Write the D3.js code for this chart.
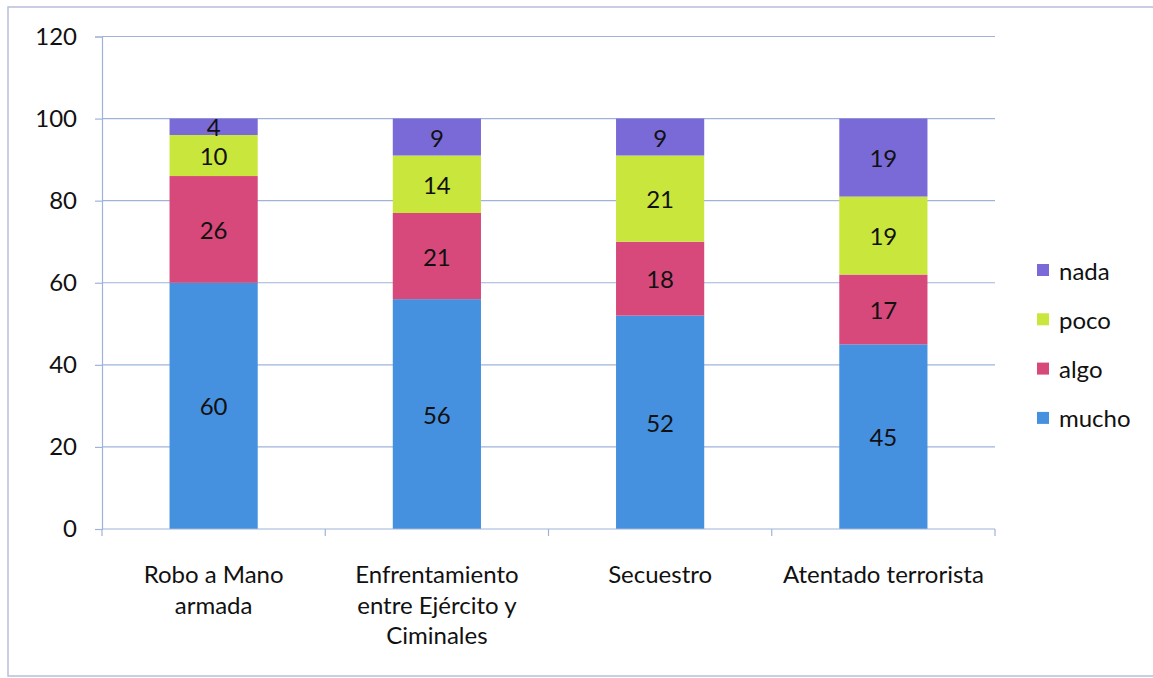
<!DOCTYPE html>
<html><head><meta charset="utf-8">
<script src="https://cdn.jsdelivr.net/npm/d3@7"></script>
<style>
html,body{margin:0;padding:0;background:#fff;}
svg text{font-family:Lato,"Open Sans",sans-serif;fill:#111;}
</style></head>
<body>
<svg id="c" width="1153" height="678"></svg>
<script>
const categories = [["Robo a Mano","armada"],["Enfrentamiento","entre Ejército y","Ciminales"],["Secuestro"],["Atentado terrorista"]];
const seriesNames = ["mucho","algo","poco","nada"];
const mucho = [60,56,52,45];
const algo = [26,21,18,17];
const poco = [10,14,21,19];
const nada = [4,9,9,19];
const yTicks = [0,20,40,60,80,100,120];
const colors = {mucho:"#4690E0", algo:"#D6497A", poco:"#C9E63C", nada:"#7A6AD8"};
const FS = 24;

const values = {mucho, algo, poco, nada};
const svg = d3.select("#c");

// frame
svg.append("rect").attr("x",8).attr("y",7).attr("width",1160).attr("height",669)
  .attr("fill","none").attr("stroke","#B8BEDA").attr("stroke-width",1.5);

const x = d3.scaleBand().domain(d3.range(categories.length)).range([102,995]).paddingInner(0.605).paddingOuter(0.3025);
const y = d3.scaleLinear().domain([0,120]).range([529,36.5]);

// gridlines
svg.append("g").selectAll("line").data(yTicks.filter(t=>t>0)).join("line")
  .attr("x1",102).attr("x2",995).attr("y1",d=>y(d)).attr("y2",d=>y(d))
  .attr("stroke","#9FB3DA").attr("stroke-width",1.2);

// y axis
const ya = svg.append("g").attr("transform","translate(102,0)")
  .call(d3.axisLeft(y).tickValues(yTicks).tickSize(7).tickPadding(18));
ya.select(".domain").attr("stroke","#9FB3DA").attr("stroke-width",1.2);
ya.selectAll(".tick line").attr("stroke","#9FB3DA").attr("stroke-width",1.2);
ya.selectAll(".tick text").attr("font-size",FS).attr("font-family","Lato,sans-serif").attr("fill","#111");

// stack
const rows = categories.map((c,i)=>{const o={i}; seriesNames.forEach(s=>o[s]=values[s][i]); return o;});
const stack = d3.stack().keys(seriesNames)(rows);

const g = svg.append("g");
stack.forEach(layer=>{
  g.selectAll(null).data(layer).join("rect")
    .attr("x",d=>x(d.data.i)).attr("width",x.bandwidth())
    .attr("y",d=>y(d[1])).attr("height",d=>y(d[0])-y(d[1]))
    .attr("fill",colors[layer.key]);
  g.selectAll(null).data(layer).join("text")
    .attr("x",d=>x(d.data.i)+x.bandwidth()/2)
    .attr("y",d=>(y(d[0])+y(d[1]))/2)
    .attr("text-anchor","middle").attr("dominant-baseline","central")
    .attr("font-size",FS)
    .text(d=>d.data[layer.key]);
});

// x axis
const xa = svg.append("g").attr("transform","translate(0,529)");
xa.append("line").attr("x1",102).attr("x2",995).attr("stroke","#9FB3DA").attr("stroke-width",1.2);
const bounds = d3.range(categories.length+1).map(i=> i<categories.length ? x(i)-x.step()*x.paddingInner()/2 : 995);
xa.selectAll(null).data(bounds).join("line")
  .attr("x1",d=>d).attr("x2",d=>d).attr("y1",0).attr("y2",7)
  .attr("stroke","#9FB3DA").attr("stroke-width",1.2);

categories.forEach((lines,i)=>{
  const t = svg.append("text").attr("text-anchor","middle").attr("font-size",FS)
    .attr("x",x(i)+x.bandwidth()/2).attr("y",583);
  lines.forEach((l,j)=>t.append("tspan").attr("x",x(i)+x.bandwidth()/2).attr("y",583+j*30.5).text(l));
});

// legend
const legOrder = ["nada","poco","algo","mucho"];
const lg = svg.append("g");
legOrder.forEach((s,k)=>{
  const cy = 270 + k*49.3;
  lg.append("rect").attr("x",1037).attr("y",cy-6).attr("width",12).attr("height",12).attr("fill",colors[s]);
  lg.append("text").attr("x",1059).attr("y",cy).attr("dominant-baseline","central").attr("font-size",FS).text(s);
});
</script>
</body></html>
